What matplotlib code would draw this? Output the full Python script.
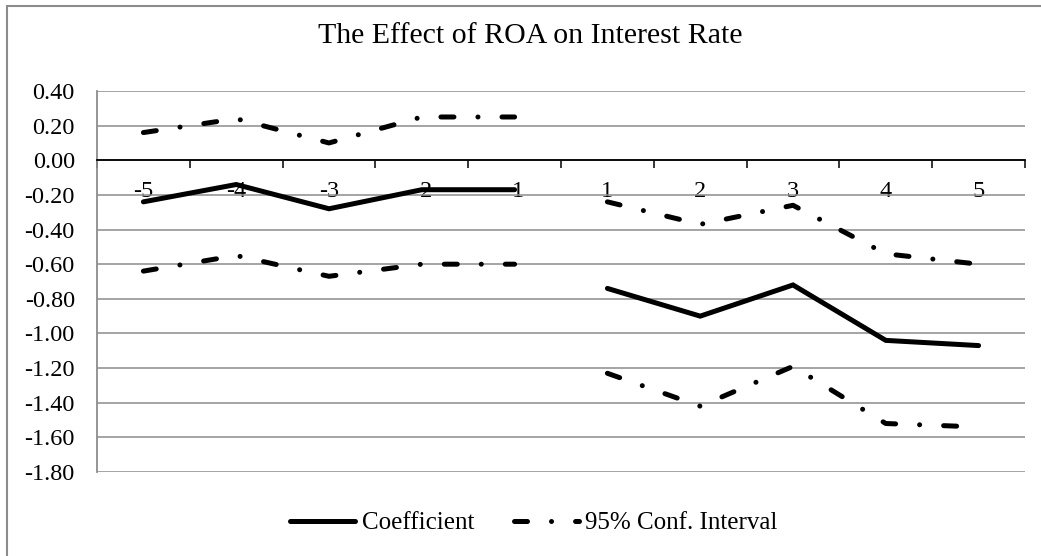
import matplotlib
matplotlib.use("Agg")
import matplotlib.pyplot as plt
from matplotlib.patches import Rectangle
from matplotlib.lines import Line2D

categories = ["-5", "-4", "-3", "-2", "-1", "1", "2", "3", "4", "5"]
coef_pre = [-0.24, -0.14, -0.28, -0.17, -0.17]
upper_pre = [0.16, 0.24, 0.10, 0.25, 0.25]
lower_pre = [-0.64, -0.55, -0.67, -0.60, -0.60]
coef_post = [-0.74, -0.90, -0.72, -1.04, -1.07]
upper_post = [-0.24, -0.37, -0.26, -0.54, -0.60]
lower_post = [-1.23, -1.42, -1.19, -1.52, -1.54]
y_ticks = [0.40, 0.20, 0.00, -0.20, -0.40, -0.60, -0.80, -1.00, -1.20, -1.40, -1.60, -1.80]

W, H, DPI = 1041, 556, 100
plt.rcParams['font.family'] = ['Liberation Serif', 'DejaVu Serif']
fig = plt.figure(figsize=(W / DPI, H / DPI), dpi=DPI)

# outer chart border (cropped at right/bottom)
fig.patches.append(Rectangle((7 / W, -0.1), 2.0, 1 - 6 / H + 0.1, transform=fig.transFigure,
                             fill=False, edgecolor='#8c8c8c', lw=1.5, zorder=0))

ax = fig.add_axes([97 / W, 1 - 472 / H, (1025 - 97) / W, (472 - 91) / H])
grey = '#8c8c8c'
lw = 3.6
ci_style = (0, (2.6, 4.8, 0.01, 4.8))

x_pre = list(range(5))
x_post = list(range(5, 10))
ax.plot(x_pre, coef_pre, color='black', lw=lw, solid_capstyle='round', solid_joinstyle='miter', zorder=4)
ax.plot(x_post, coef_post, color='black', lw=lw, solid_capstyle='round', solid_joinstyle='miter', zorder=4)
for xs, ys in [(x_pre, upper_pre), (x_pre, lower_pre), (x_post, upper_post), (x_post, lower_post)]:
    ax.plot(xs, ys, color='black', lw=lw, linestyle=ci_style, dash_capstyle='round', zorder=4)

ax.set_xlim(-0.5, 9.5)
ax.set_ylim(-1.8, 0.4)
ax.set_yticks(y_ticks)
ax.set_yticklabels([f"{v:.2f}".replace("-0.00", "0.00") for v in y_ticks])
ax.tick_params(axis='y', length=0, pad=16, labelsize=17.5)
ax.grid(axis='y', color=grey, lw=1.1, zorder=1)

ax.set_xticks([i - 0.5 for i in range(11)])
ax.set_xticklabels([])
ax.set_xticks(range(10), minor=True)
ax.set_xticklabels(categories, minor=True)
ax.tick_params(axis='x', which='major', direction='out', length=6, width=1.1, color='black')
ax.tick_params(axis='x', which='minor', length=0, pad=15, labelsize=17.5)

for s in ['top', 'right']:
    ax.spines[s].set_visible(False)
ax.spines['bottom'].set_position(('data', 0))
ax.spines['bottom'].set_color('black')
ax.spines['bottom'].set_linewidth(1.3)
ax.spines['bottom'].set_zorder(3)
ax.spines['left'].set_color(grey)
ax.spines['left'].set_linewidth(1.3)

fig.text(530 / W, 1 - 43 / H, "The Effect of ROA on Interest Rate", ha='center', va='baseline', fontsize=21.5)

handles = [Line2D([], [], color='black', lw=lw, solid_capstyle='round'),
           Line2D([], [], color='black', lw=lw, linestyle=ci_style, dash_capstyle='round')]
fig.legend(handles, ["Coefficient", "95% Conf. Interval"], loc='center',
           bbox_to_anchor=(534 / W, 1 - 523 / H), ncol=2, frameon=False, fontsize=18,
           handlelength=2.6, handletextpad=0.25, columnspacing=1.6)

fig.savefig("out.png", dpi=DPI)
